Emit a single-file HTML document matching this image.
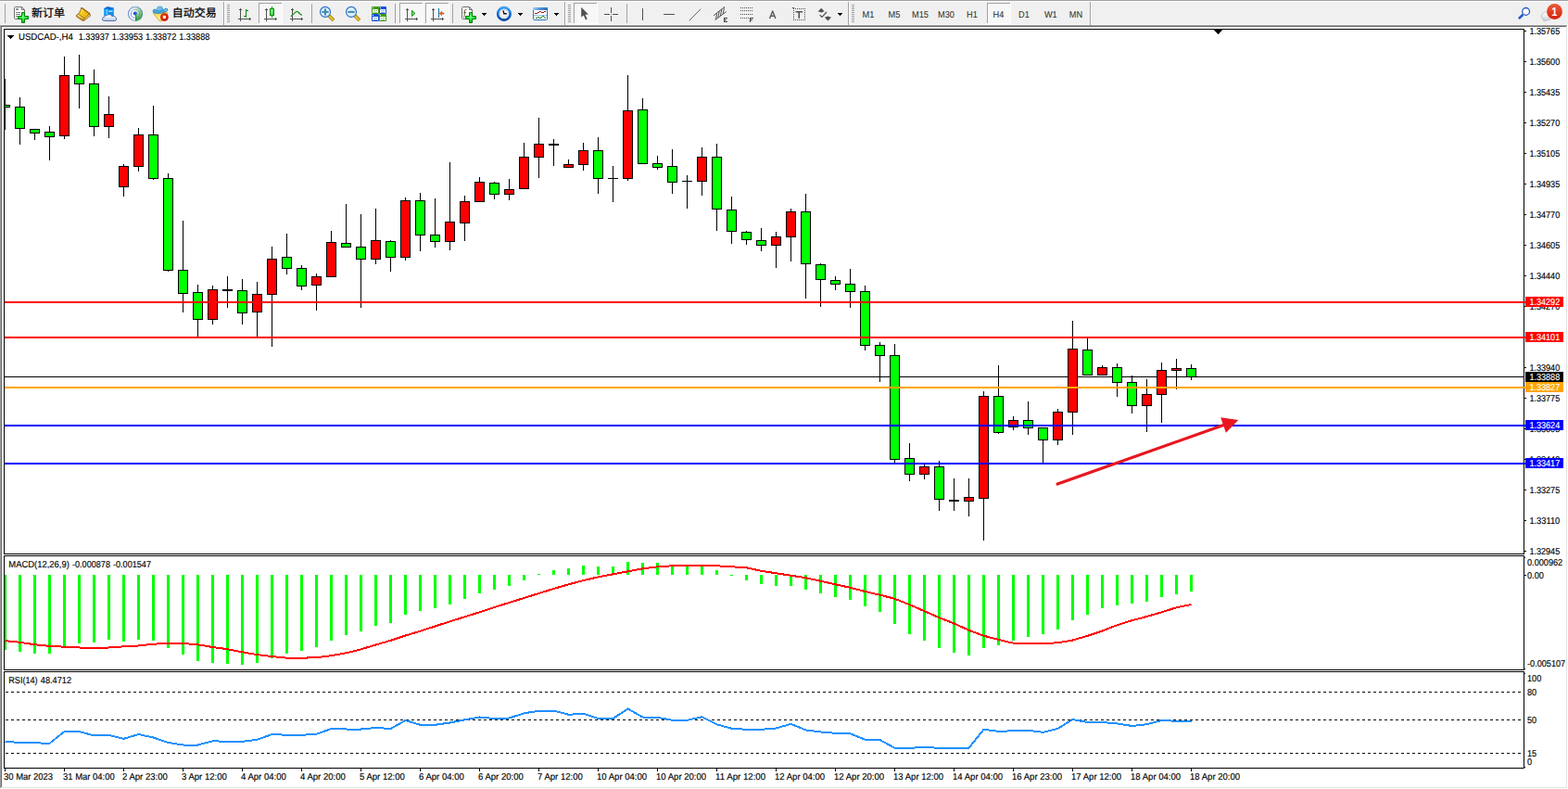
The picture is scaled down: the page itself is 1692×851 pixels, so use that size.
<!DOCTYPE html>
<html><head><meta charset="utf-8"><title>USDCAD-,H4</title>
<style>html,body{margin:0;padding:0;background:#fff;overflow:hidden}body{width:1692px;height:851px;font-family:"Liberation Sans",sans-serif}text{white-space:pre}</style>
</head><body>
<svg width="1692" height="851" viewBox="0 0 1692 851" shape-rendering="crispEdges" text-rendering="geometricPrecision" font-family="'Liberation Sans', sans-serif" style="display:block"><defs><clipPath id="cm"><rect x="5" y="32" width="1639" height="565"/></clipPath></defs><rect x="0" y="0" width="1692" height="851" fill="#fff"/>
<rect x="0" y="0" width="1692" height="27" fill="#f0f0f0"/>
<rect x="0" y="0" width="1692" height="1" fill="#a0a0a0"/>
<rect x="0" y="1" width="1692" height="1" fill="#ffffff"/>
<rect x="0" y="26" width="1692" height="1" fill="#f8f8f8"/>
<rect x="0" y="27" width="1692" height="1" fill="#a0a0a0"/>
<rect x="1" y="28" width="1691" height="1" fill="#696969"/>
<rect x="0" y="27" width="1" height="824" fill="#a0a0a0"/>
<rect x="1" y="28" width="1" height="823" fill="#696969"/>
<rect x="1690" y="28" width="1" height="823" fill="#e3e3e3"/>
<rect x="1691" y="27" width="1" height="824" fill="#ffffff"/>
<rect x="1" y="849" width="1690" height="1" fill="#e3e3e3"/>
<rect x="0" y="850" width="1692" height="1" fill="#ffffff"/>
<defs><pattern id="chk" width="2" height="2" patternUnits="userSpaceOnUse"><rect width="2" height="2" fill="#fff"/><rect width="1" height="1" fill="#f0f0f0"/><rect x="1" y="1" width="1" height="1" fill="#f0f0f0"/></pattern><radialGradient id="gplus" cx=".5" cy=".4" r=".6"><stop offset="0" stop-color="#7dff8a"/><stop offset=".6" stop-color="#10e62a"/><stop offset="1" stop-color="#08b81c"/></radialGradient><linearGradient id="gbook" x1="0" y1="0" x2="1" y2="1"><stop offset="0" stop-color="#fff79a"/><stop offset=".45" stop-color="#f2c516"/><stop offset="1" stop-color="#e6ad10"/></linearGradient><linearGradient id="gspine" x1="0" y1="0" x2=".3" y2="1"><stop offset="0" stop-color="#fdf0b0"/><stop offset="1" stop-color="#d9a018"/></linearGradient><linearGradient id="gring" x1="0" y1="0" x2="1" y2="0"><stop offset="0" stop-color="#2456cc"/><stop offset=".5" stop-color="#7fa2e0"/><stop offset="1" stop-color="#2f6a94"/></linearGradient><linearGradient id="gcloud" x1="0" y1="0" x2="0" y2="1"><stop offset="0" stop-color="#ffffff"/><stop offset=".5" stop-color="#e4eaf4"/><stop offset="1" stop-color="#b4c1dc"/></linearGradient><radialGradient id="gradar"><stop offset="0" stop-color="#ffffff" stop-opacity=".9"/><stop offset="1" stop-color="#dfe8f6" stop-opacity=".7"/></radialGradient><linearGradient id="gsect" x1="0" y1="0" x2="1" y2="1"><stop offset="0" stop-color="#d0e8c8" stop-opacity=".6"/><stop offset="1" stop-color="#2f9c2f"/></linearGradient><linearGradient id="gface" x1="0" y1="0" x2="1" y2="1"><stop offset="0" stop-color="#f7d73a"/><stop offset=".6" stop-color="#fdf08a"/><stop offset="1" stop-color="#f0c828"/></linearGradient><radialGradient id="gwedge" gradientUnits="userSpaceOnUse" cx="146" cy="14.85" r="8"><stop offset="0" stop-color="#a8d8a2"/><stop offset=".5" stop-color="#58b258"/><stop offset="1" stop-color="#1c931c"/></radialGradient><linearGradient id="gcrown" x1="0" y1="0" x2="1" y2="1"><stop offset="0" stop-color="#8dd0f4"/><stop offset="1" stop-color="#4fabe0"/></linearGradient><radialGradient id="gstop" cx=".4" cy=".35"><stop offset="0" stop-color="#ff5a30"/><stop offset="1" stop-color="#da1c00"/></radialGradient><linearGradient id="gcnd" x1="0" y1="0" x2="1" y2="1"><stop offset="0" stop-color="#9cf7a4"/><stop offset="1" stop-color="#22d53a"/></linearGradient><linearGradient id="gclk" x1="0" y1="0" x2="0" y2="1"><stop offset="0" stop-color="#38a0f4"/><stop offset=".5" stop-color="#0a6cd8"/><stop offset="1" stop-color="#00489a"/></linearGradient><linearGradient id="gtpl" x1="0" y1="0" x2="1" y2="0"><stop offset="0" stop-color="#9fd0ff"/><stop offset=".5" stop-color="#4c8fd8"/><stop offset="1" stop-color="#2c72ba"/></linearGradient><linearGradient id="gbub" x1="0" y1="0" x2="0" y2="1"><stop offset="0" stop-color="#ffffff"/><stop offset="1" stop-color="#d2d2de"/></linearGradient><linearGradient id="gnot" x1="0" y1="0" x2="0" y2="1"><stop offset="0" stop-color="#ea5a38"/><stop offset="1" stop-color="#d8200c"/></linearGradient></defs><rect x="5" y="4" width="1" height="21" fill="#a0a0a0"/>
<g shape-rendering="geometricPrecision"><path d="M16.5,7.5 H23.5 L26.5,10.5 V19.5 Q26.5,20.5 25.5,20.5 H16.5 Q15.5,20.5 15.5,19.5 V8.5 Q15.5,7.5 16.5,7.5 Z" fill="#fff" stroke="#707070" stroke-width="1"/><path d="M23.5,7.5 V10.5 H26.5" fill="none" stroke="#707070" stroke-width="1"/></g>
<rect x="17" y="9" width="3" height="2" fill="#909090"/>
<rect x="17" y="13" width="5" height="1" fill="#808080"/>
<rect x="17" y="15" width="5" height="1" fill="#808080"/>
<rect x="17" y="17" width="2" height="1" fill="#808080"/>
<g shape-rendering="geometricPrecision"><path d="M23.5,13.5 H26.5 V17.5 H30.5 V20.5 H26.5 V24.5 H23.5 V20.5 H19.5 V17.5 H23.5 Z" fill="url(#gplus)" stroke="#0b7a0b" stroke-width="1"/></g>
<g shape-rendering="geometricPrecision"><text x="34" y="18.3" font-size="12" fill="#000" stroke="#000" stroke-width="0.25" font-family="'Liberation Sans', 'Noto Sans CJK SC', sans-serif">新订单</text></g>
<g shape-rendering="geometricPrecision"><path d="M87.4,8.1 L88.7,8.1 L96.9,14.1 L97.8,16.1 L97.8,17.3 L90.7,22.8 L89.1,22.8 L82.1,18 L82.1,16.5 L84.9,14 L86.3,11.4 Z" fill="#9c600b"/><path d="M88,9.2 L96,15 L91.4,19.5 L84.7,15.1 L86.4,13.4 Z" fill="url(#gbook)"/><path d="M84.3,15.6 L91.1,20 L90,21.9 L83,17.3 Z" fill="url(#gspine)"/><path d="M96.5,15.7 L97.2,16.7 L90.9,21.7 L91.7,20.1 Z" fill="#eadba4"/></g>
<g shape-rendering="geometricPrecision"><path d="M112,9.2 L116,7.2 L122.8,8.4 L122.8,17 L112,17 Z" fill="#0a8fef"/><path d="M112,9.2 L116,7.2 L122.8,8.4 L118.6,10.2 Z" fill="#1565d8"/><path d="M112,9.2 L115.6,10.6 L115.6,17 L112,17 Z" fill="#19a7fb"/><path d="M115.3,9.6 L115.9,9.9 L115.9,17 L115.3,17 Z" fill="#e8f6ff"/><rect x="117" y="11.6" width="4.6" height="1.1" fill="#e8f6ff"/><path d="M112.6,22.5 Q110.3,22.4 110.4,20.2 Q110.6,18.3 112.8,18.3 Q113.2,16.2 115.6,16.4 Q116.6,15.4 118.2,15.6 Q120.2,15.8 120.8,17.6 Q123,16.6 124.4,18.2 Q126,19.2 125.6,21 Q125.2,22.5 123.4,22.5 Z" fill="url(#gcloud)" stroke="#4465ad" stroke-width="0.9"/></g>
<g shape-rendering="geometricPrecision"><circle cx="146" cy="14.85" r="8" fill="#fbfcff" opacity=".75"/><path d="M146,14.85 L146.00,22.75 A7.9,7.9 0 0 0 150.07,21.62 Z" fill="url(#gwedge)" opacity="1"/><path d="M146,14.85 L149.95,21.69 A7.9,7.9 0 0 0 152.91,18.68 Z" fill="url(#gwedge)" opacity="0.9"/><path d="M146,14.85 L152.84,18.80 A7.9,7.9 0 0 0 153.90,14.71 Z" fill="url(#gwedge)" opacity="0.75"/><path d="M146,14.85 L153.90,14.85 A7.9,7.9 0 0 0 152.77,10.78 Z" fill="url(#gwedge)" opacity="0.55"/><path d="M146,14.85 L152.84,10.90 A7.9,7.9 0 0 0 149.83,7.94 Z" fill="url(#gwedge)" opacity="0.4"/><path d="M146,14.85 L149.95,8.01 A7.9,7.9 0 0 0 145.86,6.95 Z" fill="url(#gwedge)" opacity="0.25"/><path d="M146,14.85 L146.00,6.95 A7.9,7.9 0 0 0 141.93,8.08 Z" fill="url(#gwedge)" opacity="0.12"/><circle cx="146" cy="14.85" r="7.5" fill="none" stroke="url(#gring)" stroke-width="1.1" opacity=".68"/><circle cx="146" cy="14.85" r="4.6" fill="none" stroke="url(#gring)" stroke-width="1.1" opacity=".55"/><circle cx="145.8" cy="14.6" r="2" fill="#2453d2"/><rect x="146" y="14.9" width="1.2" height="7.9" fill="#18a018"/></g>
<g shape-rendering="geometricPrecision"><path d="M165.2,14.2 L180.9,13.2 L180.6,15.6 L174.4,22.8 L172.2,22.8 Z" fill="url(#gface)" stroke="#cf9f14" stroke-width=".8"/><path d="M165.1,11.7 Q165.3,10 167.1,10 Q168.6,10.8 169.3,11.4 L176,10.9 Q177.8,9.6 179.5,9.1 Q181,9.4 180.9,10.7 Q180.4,12 178.9,12.4 Q175,14.6 170.5,14.4 Q166.6,14.2 165.7,13.4 Q165,12.6 165.1,11.7 Z" fill="#48a8dc" stroke="#1f82b4" stroke-width=".8"/><path d="M169.1,11.5 Q169.2,8.4 170.5,7.3 Q172.4,6.9 174.4,7.3 Q175.8,8.6 176.1,11 Q172.8,12.8 169.1,11.5 Z" fill="url(#gcrown)" stroke="#2a8fc0" stroke-width=".7"/><path d="M177.6,11.6 L179.8,10.2" stroke="#bfe4f8" stroke-width=".8" fill="none"/><circle cx="177.4" cy="18.5" r="4" fill="url(#gstop)" stroke="#b41a00" stroke-width=".8"/><rect x="176.05" y="17.1" width="2.8" height="2.8" fill="#fff"/></g>
<g shape-rendering="geometricPrecision"><text x="185.8" y="18.3" font-size="12" fill="#000" stroke="#000" stroke-width="0.25" font-family="'Liberation Sans', 'Noto Sans CJK SC', sans-serif">自动交易</text></g>
<rect x="241" y="2" width="1" height="25" fill="#a0a0a0"/>
<rect x="242" y="2" width="1" height="25" fill="#fff"/>
<rect x="245" y="5" width="3" height="1" fill="#a0a0a0"/>
<rect x="245" y="7" width="3" height="1" fill="#a0a0a0"/>
<rect x="245" y="9" width="3" height="1" fill="#a0a0a0"/>
<rect x="245" y="11" width="3" height="1" fill="#a0a0a0"/>
<rect x="245" y="13" width="3" height="1" fill="#a0a0a0"/>
<rect x="245" y="15" width="3" height="1" fill="#a0a0a0"/>
<rect x="245" y="17" width="3" height="1" fill="#a0a0a0"/>
<rect x="245" y="19" width="3" height="1" fill="#a0a0a0"/>
<rect x="245" y="21" width="3" height="1" fill="#a0a0a0"/>
<rect x="245" y="23" width="3" height="1" fill="#a0a0a0"/>
<rect x="259" y="9" width="1" height="14" fill="#505050"/>
<rect x="258" y="10" width="3" height="1" fill="#505050"/>
<rect x="257" y="20" width="14" height="1" fill="#505050"/>
<rect x="269" y="19" width="1" height="3" fill="#505050"/>
<rect x="265" y="10" width="1" height="9" fill="#0a8a0a"/>
<rect x="266" y="11" width="2" height="1" fill="#0a8a0a"/>
<rect x="263" y="17" width="2" height="1" fill="#0a8a0a"/>
<rect x="280" y="4" width="24" height="21" fill="url(#chk)"/>
<rect x="280" y="4" width="24" height="1" fill="#fff"/>
<rect x="280" y="4" width="1" height="21" fill="#fff"/>
<rect x="279" y="3" width="25" height="1" fill="#a0a0a0"/>
<rect x="279" y="3" width="1" height="22" fill="#a0a0a0"/>
<rect x="304" y="3" width="1" height="23" fill="#fff"/>
<rect x="279" y="25" width="26" height="1" fill="#fff"/>
<rect x="287" y="9" width="1" height="14" fill="#505050"/>
<rect x="286" y="10" width="3" height="1" fill="#505050"/>
<rect x="285" y="20" width="14" height="1" fill="#505050"/>
<rect x="297" y="19" width="1" height="3" fill="#505050"/>
<rect x="293" y="7" width="1" height="12" fill="#0a8a0a"/>
<rect x="291" y="9" width="5" height="8" fill="#0a8a0a"/>
<rect x="292" y="10" width="3" height="6" fill="url(#gcnd)"/>
<rect x="315" y="9" width="1" height="14" fill="#505050"/>
<rect x="314" y="10" width="3" height="1" fill="#505050"/>
<rect x="313" y="20" width="14" height="1" fill="#505050"/>
<rect x="325" y="19" width="1" height="3" fill="#505050"/>
<g shape-rendering="geometricPrecision"><path d="M313.8,17.8 Q317,15 318.8,13.1 Q320.3,11.7 321.7,13 Q323.6,15 325.8,16.5" fill="none" stroke="#1d941d" stroke-width="1.2"/></g>
<rect x="336" y="4" width="1" height="21" fill="#a0a0a0"/>
<g shape-rendering="geometricPrecision"><line x1="355.2" y1="17.1" x2="359.9" y2="22.0" stroke="#9a6c00" stroke-width="3.6"/><line x1="355.4" y1="17.3" x2="359.6" y2="21.700000000000003" stroke="#ecc625" stroke-width="2.2"/><circle cx="351" cy="12.9" r="5.5" fill="#d6effb" stroke="#2a6cc4" stroke-width="1.1"/><rect x="347.4" y="11.9" width="7.2" height="2" fill="#4288b2"/><rect x="350" y="9.3" width="2" height="7.2" fill="#4288b2"/></g>
<g shape-rendering="geometricPrecision"><line x1="383.2" y1="17.1" x2="387.9" y2="22.0" stroke="#9a6c00" stroke-width="3.6"/><line x1="383.4" y1="17.3" x2="387.6" y2="21.700000000000003" stroke="#ecc625" stroke-width="2.2"/><circle cx="379" cy="12.9" r="5.5" fill="#d6effb" stroke="#2a6cc4" stroke-width="1.1"/><rect x="375.4" y="11.9" width="7.2" height="2" fill="#4288b2"/></g>
<g shape-rendering="geometricPrecision"><rect x="401" y="7" width="8" height="8" rx="1" fill="#3d9c12"/><rect x="402" y="10" width="6" height="4" fill="#fff"/><rect x="403" y="13" width="4" height="1" fill="#3d9c12" opacity=".55"/><rect x="403" y="11" width="4" height="1" fill="#9ad37c"/><rect x="402" y="8" width="1" height="1" fill="#fff"/></g>
<g shape-rendering="geometricPrecision"><rect x="409" y="7" width="8" height="8" rx="1" fill="#1452d2"/><rect x="410" y="10" width="6" height="4" fill="#fff"/><rect x="411" y="13" width="4" height="1" fill="#1452d2" opacity=".55"/><rect x="411" y="11" width="4" height="1" fill="#8fb0f0"/><rect x="410" y="8" width="1" height="1" fill="#fff"/></g>
<g shape-rendering="geometricPrecision"><rect x="401" y="15" width="8" height="8" rx="1" fill="#1452d2"/><rect x="402" y="18" width="6" height="4" fill="#fff"/><rect x="403" y="21" width="4" height="1" fill="#1452d2" opacity=".55"/><rect x="403" y="19" width="4" height="1" fill="#8fb0f0"/><rect x="402" y="16" width="1" height="1" fill="#fff"/></g>
<g shape-rendering="geometricPrecision"><rect x="409" y="15" width="8" height="8" rx="1" fill="#3d9c12"/><rect x="410" y="18" width="6" height="4" fill="#fff"/><rect x="411" y="21" width="4" height="1" fill="#3d9c12" opacity=".55"/><rect x="411" y="19" width="4" height="1" fill="#9ad37c"/><rect x="410" y="16" width="1" height="1" fill="#fff"/></g>
<rect x="426" y="4" width="1" height="21" fill="#a0a0a0"/>
<rect x="432" y="4" width="24" height="21" fill="url(#chk)"/>
<rect x="432" y="4" width="24" height="1" fill="#fff"/>
<rect x="432" y="4" width="1" height="21" fill="#fff"/>
<rect x="431" y="3" width="25" height="1" fill="#a0a0a0"/>
<rect x="431" y="3" width="1" height="22" fill="#a0a0a0"/>
<rect x="456" y="3" width="1" height="23" fill="#fff"/>
<rect x="431" y="25" width="26" height="1" fill="#fff"/>
<rect x="439" y="9" width="1" height="14" fill="#505050"/>
<rect x="438" y="10" width="3" height="1" fill="#505050"/>
<rect x="437" y="20" width="14" height="1" fill="#505050"/>
<rect x="449" y="19" width="1" height="3" fill="#505050"/>
<g shape-rendering="geometricPrecision"><path d="M444.4,11.3 L447.9,14.4 L444.4,17.5 Z" fill="#62e067" stroke="#0a8a0a" stroke-width=".9"/></g>
<rect x="460" y="4" width="24" height="21" fill="url(#chk)"/>
<rect x="460" y="4" width="24" height="1" fill="#fff"/>
<rect x="460" y="4" width="1" height="21" fill="#fff"/>
<rect x="459" y="3" width="25" height="1" fill="#a0a0a0"/>
<rect x="459" y="3" width="1" height="22" fill="#a0a0a0"/>
<rect x="484" y="3" width="1" height="23" fill="#fff"/>
<rect x="459" y="25" width="26" height="1" fill="#fff"/>
<rect x="467" y="9" width="1" height="14" fill="#505050"/>
<rect x="466" y="10" width="3" height="1" fill="#505050"/>
<rect x="465" y="20" width="14" height="1" fill="#505050"/>
<rect x="477" y="19" width="1" height="3" fill="#505050"/>
<rect x="473" y="9" width="1" height="10" fill="#1070a8"/>
<g shape-rendering="geometricPrecision"><path d="M474.2,14.4 L476.6,12.2 L476.4,13.8 L479,14 L479,14.9 L476.4,15.1 L476.6,16.7 Z" fill="#f2620a" stroke="#b23500" stroke-width=".5"/></g>
<rect x="488" y="4" width="1" height="21" fill="#a0a0a0"/>
<g shape-rendering="geometricPrecision"><path d="M499.5,7.5 H506.5 L509.5,10.5 V19.5 Q509.5,20.5 508.5,20.5 H499.5 Q498.5,20.5 498.5,19.5 V8.5 Q498.5,7.5 499.5,7.5 Z" fill="#fff" stroke="#707070" stroke-width="1"/><path d="M506.5,7.5 V10.5 H509.5" fill="none" stroke="#707070" stroke-width="1"/></g>
<g shape-rendering="geometricPrecision"><path d="M503.6,10.2 Q501.6,9.6 501.4,12 L501,17.6 Q500.9,19 499.9,18.8 M500.2,13.6 H503" fill="none" stroke="#5a5238" stroke-width=".9"/></g>
<g shape-rendering="geometricPrecision"><path d="M506.5,13.5 H509.5 V17.5 H513.5 V20.5 H509.5 V24.5 H506.5 V20.5 H502.5 V17.5 H506.5 Z" fill="url(#gplus)" stroke="#0b7a0b" stroke-width="1"/></g>
<rect x="520" y="14" width="5" height="1" fill="#000"/>
<rect x="521" y="15" width="3" height="1" fill="#000"/>
<rect x="522" y="16" width="1" height="1" fill="#000"/>
<g shape-rendering="geometricPrecision"><circle cx="543.9" cy="14.9" r="6.75" fill="#f1f3f6" stroke="url(#gclk)" stroke-width="2.6"/><circle cx="543.9" cy="14.9" r="4.4" fill="none" stroke="#7c8894" stroke-width=".9" stroke-dasharray=".7,1.6"/><path d="M543,11.4 L543.9,14.7 L546.8,14.7" fill="none" stroke="#111" stroke-width="1.4"/></g>
<rect x="559" y="14" width="5" height="1" fill="#000"/>
<rect x="560" y="15" width="3" height="1" fill="#000"/>
<rect x="561" y="16" width="1" height="1" fill="#000"/>
<g shape-rendering="geometricPrecision"><rect x="575.5" y="8.5" width="15" height="13" rx="1" fill="#fff" stroke="#2c72ba" stroke-width="1"/><rect x="575" y="8" width="16" height="3" fill="url(#gtpl)"/><rect x="576" y="16" width="14" height="1" fill="#9fc3e6"/></g>
<rect x="577" y="14" width="3" height="1" fill="#a32000"/>
<rect x="580" y="13" width="2" height="1" fill="#a32000"/>
<rect x="582" y="12" width="2" height="1" fill="#a32000"/>
<rect x="584" y="13" width="3" height="1" fill="#a32000"/>
<rect x="587" y="12" width="2" height="1" fill="#a32000"/>
<rect x="578" y="19" width="2" height="1" fill="#148414"/>
<rect x="580" y="18" width="2" height="1" fill="#148414"/>
<rect x="582" y="19" width="2" height="1" fill="#148414"/>
<rect x="584" y="18" width="1" height="1" fill="#148414"/>
<rect x="585" y="17" width="2" height="1" fill="#148414"/>
<rect x="587" y="18" width="1" height="1" fill="#148414"/>
<rect x="588" y="19" width="1" height="1" fill="#148414"/>
<rect x="598" y="14" width="5" height="1" fill="#000"/>
<rect x="599" y="15" width="3" height="1" fill="#000"/>
<rect x="600" y="16" width="1" height="1" fill="#000"/>
<rect x="609" y="2" width="1" height="25" fill="#a0a0a0"/>
<rect x="610" y="2" width="1" height="25" fill="#fff"/>
<rect x="613" y="5" width="3" height="1" fill="#a0a0a0"/>
<rect x="613" y="7" width="3" height="1" fill="#a0a0a0"/>
<rect x="613" y="9" width="3" height="1" fill="#a0a0a0"/>
<rect x="613" y="11" width="3" height="1" fill="#a0a0a0"/>
<rect x="613" y="13" width="3" height="1" fill="#a0a0a0"/>
<rect x="613" y="15" width="3" height="1" fill="#a0a0a0"/>
<rect x="613" y="17" width="3" height="1" fill="#a0a0a0"/>
<rect x="613" y="19" width="3" height="1" fill="#a0a0a0"/>
<rect x="613" y="21" width="3" height="1" fill="#a0a0a0"/>
<rect x="613" y="23" width="3" height="1" fill="#a0a0a0"/>
<rect x="620" y="4" width="24" height="21" fill="url(#chk)"/>
<rect x="620" y="4" width="24" height="1" fill="#fff"/>
<rect x="620" y="4" width="1" height="21" fill="#fff"/>
<rect x="619" y="3" width="25" height="1" fill="#a0a0a0"/>
<rect x="619" y="3" width="1" height="22" fill="#a0a0a0"/>
<rect x="644" y="3" width="1" height="23" fill="#fff"/>
<rect x="619" y="25" width="26" height="1" fill="#fff"/>
<g shape-rendering="geometricPrecision"><path d="M627.2,7.8 L627.2,18.6 L629.8,16.4 L632,21.4 L633.7,20.6 L631.5,15.8 L634.9,15.6 Z" fill="#505050"/></g>
<rect x="659" y="8" width="1" height="6" fill="#505050"/>
<rect x="659" y="17" width="1" height="6" fill="#505050"/>
<rect x="652" y="15" width="6" height="1" fill="#505050"/>
<rect x="661" y="15" width="6" height="1" fill="#505050"/>
<rect x="659" y="15" width="1" height="1" fill="#909090"/>
<rect x="676" y="4" width="1" height="21" fill="#a0a0a0"/>
<rect x="693" y="9" width="1" height="13" fill="#505050"/>
<rect x="716" y="15" width="12" height="1" fill="#505050"/>
<g shape-rendering="geometricPrecision"><line x1="743.8" y1="22.2" x2="756.2" y2="9.6" stroke="#5c5c5c" stroke-width="0.95"/></g>
<g shape-rendering="geometricPrecision"><g stroke="#505050" stroke-width="1"><line x1="770" y1="16.8" x2="780.6" y2="8.4"/><line x1="771.6" y1="21.6" x2="783.6" y2="12.6"/><line x1="773.6" y1="14.4" x2="772.4" y2="21"/><line x1="776.2" y1="12.2" x2="774.8" y2="19"/><line x1="778.8" y1="10" x2="777.4" y2="17"/><line x1="781.6" y1="7.2" x2="780.2" y2="15"/></g></g>
<rect x="781" y="19" width="1" height="5" fill="#404040"/>
<rect x="781" y="19" width="4" height="1" fill="#404040"/>
<rect x="781" y="21" width="3" height="1" fill="#404040"/>
<rect x="781" y="23" width="4" height="1" fill="#404040"/>
<rect x="799" y="8" width="1" height="1" fill="#505050"/>
<rect x="801" y="8" width="1" height="1" fill="#505050"/>
<rect x="803" y="8" width="1" height="1" fill="#505050"/>
<rect x="805" y="8" width="1" height="1" fill="#505050"/>
<rect x="807" y="8" width="1" height="1" fill="#505050"/>
<rect x="809" y="8" width="1" height="1" fill="#505050"/>
<rect x="811" y="8" width="1" height="1" fill="#505050"/>
<rect x="799" y="11" width="1" height="1" fill="#505050"/>
<rect x="801" y="11" width="1" height="1" fill="#505050"/>
<rect x="803" y="11" width="1" height="1" fill="#505050"/>
<rect x="805" y="11" width="1" height="1" fill="#505050"/>
<rect x="807" y="11" width="1" height="1" fill="#505050"/>
<rect x="809" y="11" width="1" height="1" fill="#505050"/>
<rect x="811" y="11" width="1" height="1" fill="#505050"/>
<rect x="799" y="15" width="1" height="1" fill="#505050"/>
<rect x="801" y="15" width="1" height="1" fill="#505050"/>
<rect x="803" y="15" width="1" height="1" fill="#505050"/>
<rect x="805" y="15" width="1" height="1" fill="#505050"/>
<rect x="807" y="15" width="1" height="1" fill="#505050"/>
<rect x="809" y="15" width="1" height="1" fill="#505050"/>
<rect x="811" y="15" width="1" height="1" fill="#505050"/>
<rect x="799" y="19" width="1" height="1" fill="#505050"/>
<rect x="801" y="19" width="1" height="1" fill="#505050"/>
<rect x="803" y="19" width="1" height="1" fill="#505050"/>
<rect x="805" y="19" width="1" height="1" fill="#505050"/>
<rect x="807" y="19" width="1" height="1" fill="#505050"/>
<rect x="809" y="19" width="1" height="5" fill="#404040"/>
<rect x="809" y="19" width="4" height="1" fill="#404040"/>
<rect x="809" y="21" width="3" height="1" fill="#404040"/>
<g shape-rendering="geometricPrecision"><path d="M830.5,19.9 L833.7,11.9 L836.9,19.9 M831.6,17.2 H835.8" fill="none" stroke="#5c5c5c" stroke-width="1.45" stroke-linejoin="round"/></g>
<rect x="856" y="9" width="1" height="1" fill="#505050"/>
<rect x="856" y="21" width="1" height="1" fill="#505050"/>
<rect x="858" y="9" width="1" height="1" fill="#505050"/>
<rect x="858" y="21" width="1" height="1" fill="#505050"/>
<rect x="860" y="9" width="1" height="1" fill="#505050"/>
<rect x="860" y="21" width="1" height="1" fill="#505050"/>
<rect x="862" y="9" width="1" height="1" fill="#505050"/>
<rect x="862" y="21" width="1" height="1" fill="#505050"/>
<rect x="864" y="9" width="1" height="1" fill="#505050"/>
<rect x="864" y="21" width="1" height="1" fill="#505050"/>
<rect x="866" y="9" width="1" height="1" fill="#505050"/>
<rect x="866" y="21" width="1" height="1" fill="#505050"/>
<rect x="868" y="9" width="1" height="1" fill="#505050"/>
<rect x="868" y="21" width="1" height="1" fill="#505050"/>
<rect x="856" y="9" width="1" height="1" fill="#505050"/>
<rect x="868" y="9" width="1" height="1" fill="#505050"/>
<rect x="856" y="11" width="1" height="1" fill="#505050"/>
<rect x="868" y="11" width="1" height="1" fill="#505050"/>
<rect x="856" y="13" width="1" height="1" fill="#505050"/>
<rect x="868" y="13" width="1" height="1" fill="#505050"/>
<rect x="856" y="15" width="1" height="1" fill="#505050"/>
<rect x="868" y="15" width="1" height="1" fill="#505050"/>
<rect x="856" y="17" width="1" height="1" fill="#505050"/>
<rect x="868" y="17" width="1" height="1" fill="#505050"/>
<rect x="856" y="19" width="1" height="1" fill="#505050"/>
<rect x="868" y="19" width="1" height="1" fill="#505050"/>
<rect x="856" y="21" width="1" height="1" fill="#505050"/>
<rect x="868" y="21" width="1" height="1" fill="#505050"/>
<rect x="855" y="8" width="2" height="1" fill="#505050"/>
<g shape-rendering="geometricPrecision"><rect x="858.5" y="12" width="7.5" height="1.5" fill="#505050"/><rect x="861.45" y="12" width="1.6" height="7.8" fill="#505050"/></g>
<g shape-rendering="geometricPrecision"><path d="M886.2,8.8 L889.6,12.2 L886.2,13.4 L882.8,12.2 Z" fill="#505050"/><path d="M893.4,22.4 L889.8,18.8 L893.4,17.6 L897,18.8 Z" fill="#505050"/><path d="M884.6,16.2 L887,18.4 L892,13" fill="none" stroke="#505050" stroke-width="1.2"/></g>
<rect x="904" y="14" width="5" height="1" fill="#000"/>
<rect x="905" y="15" width="3" height="1" fill="#000"/>
<rect x="906" y="16" width="1" height="1" fill="#000"/>
<rect x="915" y="2" width="1" height="25" fill="#a0a0a0"/>
<rect x="916" y="2" width="1" height="25" fill="#fff"/>
<rect x="919" y="5" width="3" height="1" fill="#a0a0a0"/>
<rect x="919" y="7" width="3" height="1" fill="#a0a0a0"/>
<rect x="919" y="9" width="3" height="1" fill="#a0a0a0"/>
<rect x="919" y="11" width="3" height="1" fill="#a0a0a0"/>
<rect x="919" y="13" width="3" height="1" fill="#a0a0a0"/>
<rect x="919" y="15" width="3" height="1" fill="#a0a0a0"/>
<rect x="919" y="17" width="3" height="1" fill="#a0a0a0"/>
<rect x="919" y="19" width="3" height="1" fill="#a0a0a0"/>
<rect x="919" y="21" width="3" height="1" fill="#a0a0a0"/>
<rect x="919" y="23" width="3" height="1" fill="#a0a0a0"/>
<rect x="1066" y="4" width="24" height="21" fill="url(#chk)"/>
<rect x="1066" y="4" width="24" height="1" fill="#fff"/>
<rect x="1066" y="4" width="1" height="21" fill="#fff"/>
<rect x="1065" y="3" width="25" height="1" fill="#a0a0a0"/>
<rect x="1065" y="3" width="1" height="22" fill="#a0a0a0"/>
<rect x="1090" y="3" width="1" height="23" fill="#fff"/>
<rect x="1065" y="25" width="26" height="1" fill="#fff"/>
<g shape-rendering="geometricPrecision"><text x="930.61" y="19" font-size="10" fill="#303030" stroke="#303030" stroke-width="0.07" textLength="12.78" lengthAdjust="spacingAndGlyphs">M1</text></g>
<g shape-rendering="geometricPrecision"><text x="958.61" y="19" font-size="10" fill="#303030" stroke="#303030" stroke-width="0.07" textLength="12.78" lengthAdjust="spacingAndGlyphs">M5</text></g>
<g shape-rendering="geometricPrecision"><text x="984.05" y="19" font-size="10" fill="#303030" stroke="#303030" stroke-width="0.07" textLength="17.9" lengthAdjust="spacingAndGlyphs">M15</text></g>
<g shape-rendering="geometricPrecision"><text x="1012.05" y="19" font-size="10" fill="#303030" stroke="#303030" stroke-width="0.07" textLength="17.9" lengthAdjust="spacingAndGlyphs">M30</text></g>
<g shape-rendering="geometricPrecision"><text x="1043.12" y="19" font-size="10" fill="#303030" stroke="#303030" stroke-width="0.07" textLength="11.76" lengthAdjust="spacingAndGlyphs">H1</text></g>
<g shape-rendering="geometricPrecision"><text x="1071.62" y="19" font-size="10" fill="#303030" stroke="#303030" stroke-width="0.07" textLength="11.76" lengthAdjust="spacingAndGlyphs">H4</text></g>
<g shape-rendering="geometricPrecision"><text x="1099.12" y="19" font-size="10" fill="#303030" stroke="#303030" stroke-width="0.07" textLength="11.76" lengthAdjust="spacingAndGlyphs">D1</text></g>
<g shape-rendering="geometricPrecision"><text x="1126.90" y="19" font-size="10" fill="#303030" stroke="#303030" stroke-width="0.07" textLength="13.8" lengthAdjust="spacingAndGlyphs">W1</text></g>
<g shape-rendering="geometricPrecision"><text x="1153.85" y="19" font-size="10" fill="#303030" stroke="#303030" stroke-width="0.07" textLength="14.3" lengthAdjust="spacingAndGlyphs">MN</text></g>
<rect x="1176" y="2" width="1" height="25" fill="#a0a0a0"/>
<rect x="1177" y="2" width="1" height="25" fill="#fff"/>
<g shape-rendering="geometricPrecision"><line x1="1643.4" y1="15.8" x2="1638.9" y2="20.1" stroke="#2458cc" stroke-width="2.6"/><circle cx="1646.6" cy="12.4" r="3.9" fill="#fff" stroke="#2458cc" stroke-width="1.3"/></g>
<g shape-rendering="geometricPrecision"><ellipse cx="1669" cy="17.4" rx="5.8" ry="4.6" fill="url(#gbub)" stroke="#b4b4b8" stroke-width=".7"/><path d="M1665.4,20.6 L1666,23.6 L1668.6,21.6 Z" fill="#d8d8e0" stroke="#b4b4b8" stroke-width=".5"/><circle cx="1677.5" cy="12.5" r="8.4" fill="url(#gnot)"/></g>
<text x="1677.4" y="17.2" font-size="13" font-weight="bold" fill="#fff" text-anchor="middle" textLength="6.2" lengthAdjust="spacingAndGlyphs">1</text>
<rect x="5" y="406" width="1639" height="1" fill="#000"/>
<g clip-path="url(#cm)">
<rect x="5" y="85" width="1" height="55" fill="#000"/>
<rect x="0" y="113" width="11" height="3" fill="#000"/>
<rect x="1" y="114" width="9" height="1" fill="#00ff00"/>
<rect x="21" y="105" width="1" height="51" fill="#000"/>
<rect x="16" y="115" width="11" height="24" fill="#000"/>
<rect x="17" y="116" width="9" height="22" fill="#00ff00"/>
<rect x="37" y="139" width="1" height="12" fill="#000"/>
<rect x="32" y="139" width="11" height="5" fill="#000"/>
<rect x="33" y="140" width="9" height="3" fill="#00ff00"/>
<rect x="53" y="136" width="1" height="37" fill="#000"/>
<rect x="48" y="142" width="11" height="6" fill="#000"/>
<rect x="49" y="143" width="9" height="4" fill="#00ff00"/>
<rect x="69" y="61" width="1" height="89" fill="#000"/>
<rect x="64" y="81" width="11" height="66" fill="#000"/>
<rect x="65" y="82" width="9" height="64" fill="#ff0000"/>
<rect x="85" y="59" width="1" height="58" fill="#000"/>
<rect x="80" y="81" width="11" height="10" fill="#000"/>
<rect x="81" y="82" width="9" height="8" fill="#00ff00"/>
<rect x="101" y="75" width="1" height="72" fill="#000"/>
<rect x="96" y="90" width="11" height="47" fill="#000"/>
<rect x="97" y="91" width="9" height="45" fill="#00ff00"/>
<rect x="117" y="104" width="1" height="45" fill="#000"/>
<rect x="112" y="123" width="11" height="14" fill="#000"/>
<rect x="113" y="124" width="9" height="12" fill="#ff0000"/>
<rect x="133" y="177" width="1" height="35" fill="#000"/>
<rect x="128" y="179" width="11" height="23" fill="#000"/>
<rect x="129" y="180" width="9" height="21" fill="#ff0000"/>
<rect x="149" y="138" width="1" height="47" fill="#000"/>
<rect x="144" y="145" width="11" height="35" fill="#000"/>
<rect x="145" y="146" width="9" height="33" fill="#ff0000"/>
<rect x="165" y="114" width="1" height="80" fill="#000"/>
<rect x="160" y="145" width="11" height="48" fill="#000"/>
<rect x="161" y="146" width="9" height="46" fill="#00ff00"/>
<rect x="181" y="187" width="1" height="106" fill="#000"/>
<rect x="176" y="192" width="11" height="100" fill="#000"/>
<rect x="177" y="193" width="9" height="98" fill="#00ff00"/>
<rect x="197" y="238" width="1" height="99" fill="#000"/>
<rect x="192" y="291" width="11" height="26" fill="#000"/>
<rect x="193" y="292" width="9" height="24" fill="#00ff00"/>
<rect x="213" y="307" width="1" height="57" fill="#000"/>
<rect x="208" y="315" width="11" height="30" fill="#000"/>
<rect x="209" y="316" width="9" height="28" fill="#00ff00"/>
<rect x="229" y="308" width="1" height="42" fill="#000"/>
<rect x="224" y="312" width="11" height="33" fill="#000"/>
<rect x="225" y="313" width="9" height="31" fill="#ff0000"/>
<rect x="245" y="298" width="1" height="34" fill="#000"/>
<rect x="240" y="312" width="11" height="2" fill="#000"/>
<rect x="261" y="301" width="1" height="49" fill="#000"/>
<rect x="256" y="313" width="11" height="25" fill="#000"/>
<rect x="257" y="314" width="9" height="23" fill="#00ff00"/>
<rect x="277" y="304" width="1" height="60" fill="#000"/>
<rect x="272" y="317" width="11" height="20" fill="#000"/>
<rect x="273" y="318" width="9" height="18" fill="#ff0000"/>
<rect x="293" y="266" width="1" height="108" fill="#000"/>
<rect x="288" y="279" width="11" height="39" fill="#000"/>
<rect x="289" y="280" width="9" height="37" fill="#ff0000"/>
<rect x="309" y="252" width="1" height="44" fill="#000"/>
<rect x="304" y="277" width="11" height="13" fill="#000"/>
<rect x="305" y="278" width="9" height="11" fill="#00ff00"/>
<rect x="325" y="286" width="1" height="27" fill="#000"/>
<rect x="320" y="289" width="11" height="20" fill="#000"/>
<rect x="321" y="290" width="9" height="18" fill="#00ff00"/>
<rect x="341" y="295" width="1" height="40" fill="#000"/>
<rect x="336" y="298" width="11" height="10" fill="#000"/>
<rect x="337" y="299" width="9" height="8" fill="#ff0000"/>
<rect x="357" y="249" width="1" height="50" fill="#000"/>
<rect x="352" y="261" width="11" height="38" fill="#000"/>
<rect x="353" y="262" width="9" height="36" fill="#ff0000"/>
<rect x="373" y="220" width="1" height="47" fill="#000"/>
<rect x="368" y="262" width="11" height="5" fill="#000"/>
<rect x="369" y="263" width="9" height="3" fill="#00ff00"/>
<rect x="389" y="231" width="1" height="101" fill="#000"/>
<rect x="384" y="266" width="11" height="14" fill="#000"/>
<rect x="385" y="267" width="9" height="12" fill="#00ff00"/>
<rect x="405" y="225" width="1" height="60" fill="#000"/>
<rect x="400" y="259" width="11" height="21" fill="#000"/>
<rect x="401" y="260" width="9" height="19" fill="#ff0000"/>
<rect x="421" y="259" width="1" height="34" fill="#000"/>
<rect x="416" y="260" width="11" height="18" fill="#000"/>
<rect x="417" y="261" width="9" height="16" fill="#00ff00"/>
<rect x="437" y="213" width="1" height="68" fill="#000"/>
<rect x="432" y="216" width="11" height="62" fill="#000"/>
<rect x="433" y="217" width="9" height="60" fill="#ff0000"/>
<rect x="453" y="208" width="1" height="63" fill="#000"/>
<rect x="448" y="216" width="11" height="38" fill="#000"/>
<rect x="449" y="217" width="9" height="36" fill="#00ff00"/>
<rect x="469" y="214" width="1" height="53" fill="#000"/>
<rect x="464" y="253" width="11" height="8" fill="#000"/>
<rect x="465" y="254" width="9" height="6" fill="#00ff00"/>
<rect x="485" y="175" width="1" height="95" fill="#000"/>
<rect x="480" y="239" width="11" height="22" fill="#000"/>
<rect x="481" y="240" width="9" height="20" fill="#ff0000"/>
<rect x="501" y="211" width="1" height="49" fill="#000"/>
<rect x="496" y="217" width="11" height="24" fill="#000"/>
<rect x="497" y="218" width="9" height="22" fill="#ff0000"/>
<rect x="517" y="191" width="1" height="27" fill="#000"/>
<rect x="512" y="196" width="11" height="22" fill="#000"/>
<rect x="513" y="197" width="9" height="20" fill="#ff0000"/>
<rect x="533" y="196" width="1" height="19" fill="#000"/>
<rect x="528" y="197" width="11" height="13" fill="#000"/>
<rect x="529" y="198" width="9" height="11" fill="#00ff00"/>
<rect x="549" y="193" width="1" height="23" fill="#000"/>
<rect x="544" y="204" width="11" height="6" fill="#000"/>
<rect x="545" y="205" width="9" height="4" fill="#ff0000"/>
<rect x="565" y="154" width="1" height="50" fill="#000"/>
<rect x="560" y="169" width="11" height="35" fill="#000"/>
<rect x="561" y="170" width="9" height="33" fill="#ff0000"/>
<rect x="581" y="127" width="1" height="65" fill="#000"/>
<rect x="576" y="155" width="11" height="15" fill="#000"/>
<rect x="577" y="156" width="9" height="13" fill="#ff0000"/>
<rect x="597" y="150" width="1" height="29" fill="#000"/>
<rect x="592" y="155" width="11" height="2" fill="#000"/>
<rect x="613" y="172" width="1" height="9" fill="#000"/>
<rect x="608" y="177" width="11" height="4" fill="#000"/>
<rect x="609" y="178" width="9" height="2" fill="#ff0000"/>
<rect x="629" y="154" width="1" height="30" fill="#000"/>
<rect x="624" y="162" width="11" height="16" fill="#000"/>
<rect x="625" y="163" width="9" height="14" fill="#ff0000"/>
<rect x="645" y="148" width="1" height="61" fill="#000"/>
<rect x="640" y="162" width="11" height="31" fill="#000"/>
<rect x="641" y="163" width="9" height="29" fill="#00ff00"/>
<rect x="661" y="179" width="1" height="39" fill="#000"/>
<rect x="656" y="192" width="11" height="1" fill="#000"/>
<rect x="677" y="81" width="1" height="114" fill="#000"/>
<rect x="672" y="119" width="11" height="74" fill="#000"/>
<rect x="673" y="120" width="9" height="72" fill="#ff0000"/>
<rect x="693" y="106" width="1" height="71" fill="#000"/>
<rect x="688" y="118" width="11" height="59" fill="#000"/>
<rect x="689" y="119" width="9" height="57" fill="#00ff00"/>
<rect x="709" y="168" width="1" height="15" fill="#000"/>
<rect x="704" y="176" width="11" height="5" fill="#000"/>
<rect x="705" y="177" width="9" height="3" fill="#00ff00"/>
<rect x="725" y="161" width="1" height="48" fill="#000"/>
<rect x="720" y="179" width="11" height="18" fill="#000"/>
<rect x="721" y="180" width="9" height="16" fill="#00ff00"/>
<rect x="741" y="189" width="1" height="36" fill="#000"/>
<rect x="736" y="195" width="11" height="1" fill="#000"/>
<rect x="757" y="159" width="1" height="52" fill="#000"/>
<rect x="752" y="169" width="11" height="27" fill="#000"/>
<rect x="753" y="170" width="9" height="25" fill="#ff0000"/>
<rect x="773" y="155" width="1" height="94" fill="#000"/>
<rect x="768" y="169" width="11" height="57" fill="#000"/>
<rect x="769" y="170" width="9" height="55" fill="#00ff00"/>
<rect x="789" y="212" width="1" height="51" fill="#000"/>
<rect x="784" y="226" width="11" height="24" fill="#000"/>
<rect x="785" y="227" width="9" height="22" fill="#00ff00"/>
<rect x="805" y="249" width="1" height="15" fill="#000"/>
<rect x="800" y="250" width="11" height="9" fill="#000"/>
<rect x="801" y="251" width="9" height="7" fill="#00ff00"/>
<rect x="821" y="246" width="1" height="25" fill="#000"/>
<rect x="816" y="259" width="11" height="6" fill="#000"/>
<rect x="817" y="260" width="9" height="4" fill="#00ff00"/>
<rect x="837" y="250" width="1" height="39" fill="#000"/>
<rect x="832" y="255" width="11" height="10" fill="#000"/>
<rect x="833" y="256" width="9" height="8" fill="#ff0000"/>
<rect x="853" y="225" width="1" height="57" fill="#000"/>
<rect x="848" y="228" width="11" height="28" fill="#000"/>
<rect x="849" y="229" width="9" height="26" fill="#ff0000"/>
<rect x="869" y="209" width="1" height="113" fill="#000"/>
<rect x="864" y="228" width="11" height="57" fill="#000"/>
<rect x="865" y="229" width="9" height="55" fill="#00ff00"/>
<rect x="885" y="284" width="1" height="47" fill="#000"/>
<rect x="880" y="285" width="11" height="17" fill="#000"/>
<rect x="881" y="286" width="9" height="15" fill="#00ff00"/>
<rect x="901" y="298" width="1" height="15" fill="#000"/>
<rect x="896" y="302" width="11" height="5" fill="#000"/>
<rect x="897" y="303" width="9" height="3" fill="#00ff00"/>
<rect x="917" y="290" width="1" height="42" fill="#000"/>
<rect x="912" y="306" width="11" height="9" fill="#000"/>
<rect x="913" y="307" width="9" height="7" fill="#00ff00"/>
<rect x="933" y="308" width="1" height="70" fill="#000"/>
<rect x="928" y="314" width="11" height="59" fill="#000"/>
<rect x="929" y="315" width="9" height="57" fill="#00ff00"/>
<rect x="949" y="369" width="1" height="43" fill="#000"/>
<rect x="944" y="372" width="11" height="12" fill="#000"/>
<rect x="945" y="373" width="9" height="10" fill="#00ff00"/>
<rect x="965" y="371" width="1" height="128" fill="#000"/>
<rect x="960" y="383" width="11" height="113" fill="#000"/>
<rect x="961" y="384" width="9" height="111" fill="#00ff00"/>
<rect x="981" y="478" width="1" height="41" fill="#000"/>
<rect x="976" y="494" width="11" height="18" fill="#000"/>
<rect x="977" y="495" width="9" height="16" fill="#00ff00"/>
<rect x="997" y="501" width="1" height="16" fill="#000"/>
<rect x="992" y="503" width="11" height="9" fill="#000"/>
<rect x="993" y="504" width="9" height="7" fill="#ff0000"/>
<rect x="1013" y="497" width="1" height="54" fill="#000"/>
<rect x="1008" y="503" width="11" height="36" fill="#000"/>
<rect x="1009" y="504" width="9" height="34" fill="#00ff00"/>
<rect x="1029" y="516" width="1" height="35" fill="#000"/>
<rect x="1024" y="539" width="11" height="2" fill="#000"/>
<rect x="1045" y="516" width="1" height="41" fill="#000"/>
<rect x="1040" y="536" width="11" height="5" fill="#000"/>
<rect x="1041" y="537" width="9" height="3" fill="#ff0000"/>
<rect x="1061" y="422" width="1" height="161" fill="#000"/>
<rect x="1056" y="427" width="11" height="111" fill="#000"/>
<rect x="1057" y="428" width="9" height="109" fill="#ff0000"/>
<rect x="1077" y="394" width="1" height="74" fill="#000"/>
<rect x="1072" y="427" width="11" height="40" fill="#000"/>
<rect x="1073" y="428" width="9" height="38" fill="#00ff00"/>
<rect x="1093" y="449" width="1" height="15" fill="#000"/>
<rect x="1088" y="453" width="11" height="8" fill="#000"/>
<rect x="1089" y="454" width="9" height="6" fill="#ff0000"/>
<rect x="1109" y="433" width="1" height="36" fill="#000"/>
<rect x="1104" y="453" width="11" height="9" fill="#000"/>
<rect x="1105" y="454" width="9" height="7" fill="#00ff00"/>
<rect x="1125" y="461" width="1" height="39" fill="#000"/>
<rect x="1120" y="461" width="11" height="14" fill="#000"/>
<rect x="1121" y="462" width="9" height="12" fill="#00ff00"/>
<rect x="1141" y="441" width="1" height="39" fill="#000"/>
<rect x="1136" y="444" width="11" height="31" fill="#000"/>
<rect x="1137" y="445" width="9" height="29" fill="#ff0000"/>
<rect x="1157" y="346" width="1" height="123" fill="#000"/>
<rect x="1152" y="376" width="11" height="69" fill="#000"/>
<rect x="1153" y="377" width="9" height="67" fill="#ff0000"/>
<rect x="1173" y="363" width="1" height="42" fill="#000"/>
<rect x="1168" y="377" width="11" height="28" fill="#000"/>
<rect x="1169" y="378" width="9" height="26" fill="#00ff00"/>
<rect x="1189" y="394" width="1" height="11" fill="#000"/>
<rect x="1184" y="396" width="11" height="9" fill="#000"/>
<rect x="1185" y="397" width="9" height="7" fill="#ff0000"/>
<rect x="1205" y="392" width="1" height="36" fill="#000"/>
<rect x="1200" y="396" width="11" height="17" fill="#000"/>
<rect x="1201" y="397" width="9" height="15" fill="#00ff00"/>
<rect x="1221" y="405" width="1" height="41" fill="#000"/>
<rect x="1216" y="412" width="11" height="26" fill="#000"/>
<rect x="1217" y="413" width="9" height="24" fill="#00ff00"/>
<rect x="1237" y="409" width="1" height="57" fill="#000"/>
<rect x="1232" y="425" width="11" height="13" fill="#000"/>
<rect x="1233" y="426" width="9" height="11" fill="#ff0000"/>
<rect x="1253" y="391" width="1" height="65" fill="#000"/>
<rect x="1248" y="399" width="11" height="27" fill="#000"/>
<rect x="1249" y="400" width="9" height="25" fill="#ff0000"/>
<rect x="1269" y="387" width="1" height="33" fill="#000"/>
<rect x="1264" y="397" width="11" height="3" fill="#000"/>
<rect x="1265" y="398" width="9" height="1" fill="#ff0000"/>
<rect x="1285" y="393" width="1" height="17" fill="#000"/>
<rect x="1280" y="397" width="11" height="10" fill="#000"/>
<rect x="1281" y="398" width="9" height="8" fill="#00ff00"/>
</g>
<rect x="5" y="325" width="1639" height="2" fill="#ff0000"/>
<rect x="5" y="363" width="1639" height="2" fill="#ff0000"/>
<rect x="5" y="417" width="1639" height="2" fill="#ffa500"/>
<rect x="5" y="458" width="1639" height="2" fill="#0000ff"/>
<rect x="5" y="499" width="1639" height="2" fill="#0000ff"/>
<g shape-rendering="geometricPrecision"><line x1="1139.8" y1="522.5" x2="1321" y2="458.3" stroke="#e8161f" stroke-width="3.2"/><polygon points="1336.3,453 1317.2,450.2 1322.9,466.8" fill="#e8161f"/></g>
<rect x="4" y="31" width="1641" height="1" fill="#000"/>
<rect x="4" y="597" width="1641" height="1" fill="#000"/>
<rect x="4" y="31" width="1" height="567" fill="#000"/>
<rect x="1644" y="31" width="1" height="567" fill="#000"/>
<rect x="4" y="599" width="1641" height="1" fill="#000"/>
<rect x="4" y="722" width="1641" height="1" fill="#000"/>
<rect x="4" y="599" width="1" height="124" fill="#000"/>
<rect x="1644" y="599" width="1" height="124" fill="#000"/>
<rect x="4" y="724" width="1641" height="1" fill="#000"/>
<rect x="4" y="828" width="1641" height="1" fill="#000"/>
<rect x="4" y="724" width="1" height="105" fill="#000"/>
<rect x="1644" y="724" width="1" height="105" fill="#000"/>
<rect x="1310" y="32" width="9" height="1" fill="#000"/>
<rect x="1311" y="33" width="7" height="1" fill="#000"/>
<rect x="1312" y="34" width="5" height="1" fill="#000"/>
<rect x="1313" y="35" width="3" height="1" fill="#000"/>
<rect x="1314" y="36" width="1" height="1" fill="#000"/>
<rect x="1645" y="33" width="2" height="1" fill="#000"/>
<text x="1650.4" y="37" fill="#000" stroke="#000" stroke-width="0.15" font-size="10" textLength="32.82" lengthAdjust="spacingAndGlyphs">1.35765</text>
<rect x="1645" y="66" width="2" height="1" fill="#000"/>
<text x="1650.4" y="70" fill="#000" stroke="#000" stroke-width="0.15" font-size="10" textLength="32.82" lengthAdjust="spacingAndGlyphs">1.35600</text>
<rect x="1645" y="99" width="2" height="1" fill="#000"/>
<text x="1650.4" y="103" fill="#000" stroke="#000" stroke-width="0.15" font-size="10" textLength="32.82" lengthAdjust="spacingAndGlyphs">1.35435</text>
<rect x="1645" y="132" width="2" height="1" fill="#000"/>
<text x="1650.4" y="136" fill="#000" stroke="#000" stroke-width="0.15" font-size="10" textLength="32.82" lengthAdjust="spacingAndGlyphs">1.35270</text>
<rect x="1645" y="165" width="2" height="1" fill="#000"/>
<text x="1650.4" y="169" fill="#000" stroke="#000" stroke-width="0.15" font-size="10" textLength="32.82" lengthAdjust="spacingAndGlyphs">1.35105</text>
<rect x="1645" y="198" width="2" height="1" fill="#000"/>
<text x="1650.4" y="202" fill="#000" stroke="#000" stroke-width="0.15" font-size="10" textLength="32.82" lengthAdjust="spacingAndGlyphs">1.34935</text>
<rect x="1645" y="231" width="2" height="1" fill="#000"/>
<text x="1650.4" y="235" fill="#000" stroke="#000" stroke-width="0.15" font-size="10" textLength="32.82" lengthAdjust="spacingAndGlyphs">1.34770</text>
<rect x="1645" y="264" width="2" height="1" fill="#000"/>
<text x="1650.4" y="268" fill="#000" stroke="#000" stroke-width="0.15" font-size="10" textLength="32.82" lengthAdjust="spacingAndGlyphs">1.34605</text>
<rect x="1645" y="297" width="2" height="1" fill="#000"/>
<text x="1650.4" y="301" fill="#000" stroke="#000" stroke-width="0.15" font-size="10" textLength="32.82" lengthAdjust="spacingAndGlyphs">1.34440</text>
<rect x="1645" y="330" width="2" height="1" fill="#000"/>
<text x="1650.4" y="334" fill="#000" stroke="#000" stroke-width="0.15" font-size="10" textLength="32.82" lengthAdjust="spacingAndGlyphs">1.34270</text>
<rect x="1645" y="363" width="2" height="1" fill="#000"/>
<text x="1650.4" y="367" fill="#000" stroke="#000" stroke-width="0.15" font-size="10" textLength="32.82" lengthAdjust="spacingAndGlyphs">1.34105</text>
<rect x="1645" y="396" width="2" height="1" fill="#000"/>
<text x="1650.4" y="400" fill="#000" stroke="#000" stroke-width="0.15" font-size="10" textLength="32.82" lengthAdjust="spacingAndGlyphs">1.33940</text>
<rect x="1645" y="429" width="2" height="1" fill="#000"/>
<text x="1650.4" y="433" fill="#000" stroke="#000" stroke-width="0.15" font-size="10" textLength="32.82" lengthAdjust="spacingAndGlyphs">1.33775</text>
<rect x="1645" y="462" width="2" height="1" fill="#000"/>
<text x="1650.4" y="466" fill="#000" stroke="#000" stroke-width="0.15" font-size="10" textLength="32.82" lengthAdjust="spacingAndGlyphs">1.33605</text>
<rect x="1645" y="495" width="2" height="1" fill="#000"/>
<text x="1650.4" y="499" fill="#000" stroke="#000" stroke-width="0.15" font-size="10" textLength="32.82" lengthAdjust="spacingAndGlyphs">1.33440</text>
<rect x="1645" y="528" width="2" height="1" fill="#000"/>
<text x="1650.4" y="532" fill="#000" stroke="#000" stroke-width="0.15" font-size="10" textLength="32.82" lengthAdjust="spacingAndGlyphs">1.33275</text>
<rect x="1645" y="561" width="2" height="1" fill="#000"/>
<text x="1650.4" y="565" fill="#000" stroke="#000" stroke-width="0.15" font-size="10" textLength="32.82" lengthAdjust="spacingAndGlyphs">1.33110</text>
<rect x="1645" y="594" width="2" height="1" fill="#000"/>
<text x="1650.4" y="598" fill="#000" stroke="#000" stroke-width="0.15" font-size="10" textLength="32.82" lengthAdjust="spacingAndGlyphs">1.32945</text>
<rect x="1642" y="325" width="4" height="2" fill="#ff0000"/>
<rect x="1642" y="363" width="4" height="2" fill="#ff0000"/>
<rect x="1642" y="417" width="4" height="2" fill="#ffa500"/>
<rect x="1642" y="458" width="4" height="2" fill="#0000ff"/>
<rect x="1642" y="499" width="4" height="2" fill="#0000ff"/>
<rect x="1646" y="320" width="41" height="11" fill="#ff0000"/>
<text x="1650.4" y="329" fill="#fff" stroke="#fff" stroke-width="0.15" font-size="10" textLength="32.82" lengthAdjust="spacingAndGlyphs">1.34292</text>
<rect x="1646" y="358" width="41" height="11" fill="#ff0000"/>
<text x="1650.4" y="367" fill="#fff" stroke="#fff" stroke-width="0.15" font-size="10" textLength="32.82" lengthAdjust="spacingAndGlyphs">1.34101</text>
<rect x="1646" y="401" width="41" height="11" fill="#000"/>
<text x="1650.4" y="410" fill="#fff" stroke="#fff" stroke-width="0.15" font-size="10" textLength="32.82" lengthAdjust="spacingAndGlyphs">1.33888</text>
<rect x="1646" y="412" width="41" height="11" fill="#ffa500"/>
<text x="1650.4" y="421" fill="#fff" stroke="#fff" stroke-width="0.15" font-size="10" textLength="32.82" lengthAdjust="spacingAndGlyphs">1.33827</text>
<rect x="1646" y="453" width="41" height="11" fill="#0000ff"/>
<text x="1650.4" y="462" fill="#fff" stroke="#fff" stroke-width="0.15" font-size="10" textLength="32.82" lengthAdjust="spacingAndGlyphs">1.33624</text>
<rect x="1646" y="494" width="41" height="11" fill="#0000ff"/>
<text x="1650.4" y="503" fill="#fff" stroke="#fff" stroke-width="0.15" font-size="10" textLength="32.82" lengthAdjust="spacingAndGlyphs">1.33417</text>
<rect x="8" y="38" width="7" height="1" fill="#000"/>
<rect x="9" y="39" width="5" height="1" fill="#000"/>
<rect x="10" y="40" width="3" height="1" fill="#000"/>
<rect x="11" y="41" width="1" height="1" fill="#000"/>
<text x="20" y="43" fill="#000" stroke="#000" stroke-width="0.15" font-size="10" textLength="58.8" lengthAdjust="spacingAndGlyphs">USDCAD-,H4</text>
<text x="84.7" y="43" fill="#000" stroke="#000" stroke-width="0.15" font-size="10" textLength="33.3" lengthAdjust="spacingAndGlyphs">1.33937</text>
<text x="120.85" y="43" fill="#000" stroke="#000" stroke-width="0.15" font-size="10" textLength="33.3" lengthAdjust="spacingAndGlyphs">1.33953</text>
<text x="157.0" y="43" fill="#000" stroke="#000" stroke-width="0.15" font-size="10" textLength="33.3" lengthAdjust="spacingAndGlyphs">1.33872</text>
<text x="193.14999999999998" y="43" fill="#000" stroke="#000" stroke-width="0.15" font-size="10" textLength="33.3" lengthAdjust="spacingAndGlyphs">1.33888</text>
<rect x="5" y="620" width="2" height="81" fill="#00ff00"/>
<rect x="20" y="620" width="3" height="83" fill="#00ff00"/>
<rect x="36" y="620" width="3" height="85" fill="#00ff00"/>
<rect x="52" y="620" width="3" height="85" fill="#00ff00"/>
<rect x="68" y="620" width="3" height="77" fill="#00ff00"/>
<rect x="84" y="620" width="3" height="74" fill="#00ff00"/>
<rect x="100" y="620" width="3" height="73" fill="#00ff00"/>
<rect x="116" y="620" width="3" height="70" fill="#00ff00"/>
<rect x="132" y="620" width="3" height="72" fill="#00ff00"/>
<rect x="148" y="620" width="3" height="70" fill="#00ff00"/>
<rect x="164" y="620" width="3" height="71" fill="#00ff00"/>
<rect x="180" y="620" width="3" height="79" fill="#00ff00"/>
<rect x="196" y="620" width="3" height="86" fill="#00ff00"/>
<rect x="212" y="620" width="3" height="93" fill="#00ff00"/>
<rect x="228" y="620" width="3" height="95" fill="#00ff00"/>
<rect x="244" y="620" width="3" height="96" fill="#00ff00"/>
<rect x="260" y="620" width="3" height="97" fill="#00ff00"/>
<rect x="276" y="620" width="3" height="95" fill="#00ff00"/>
<rect x="292" y="620" width="3" height="90" fill="#00ff00"/>
<rect x="308" y="620" width="3" height="85" fill="#00ff00"/>
<rect x="324" y="620" width="3" height="82" fill="#00ff00"/>
<rect x="340" y="620" width="3" height="78" fill="#00ff00"/>
<rect x="356" y="620" width="3" height="71" fill="#00ff00"/>
<rect x="372" y="620" width="3" height="65" fill="#00ff00"/>
<rect x="388" y="620" width="3" height="61" fill="#00ff00"/>
<rect x="404" y="620" width="3" height="55" fill="#00ff00"/>
<rect x="420" y="620" width="3" height="52" fill="#00ff00"/>
<rect x="436" y="620" width="3" height="43" fill="#00ff00"/>
<rect x="452" y="620" width="3" height="39" fill="#00ff00"/>
<rect x="468" y="620" width="3" height="36" fill="#00ff00"/>
<rect x="484" y="620" width="3" height="32" fill="#00ff00"/>
<rect x="500" y="620" width="3" height="26" fill="#00ff00"/>
<rect x="516" y="620" width="3" height="20" fill="#00ff00"/>
<rect x="532" y="620" width="3" height="16" fill="#00ff00"/>
<rect x="548" y="620" width="3" height="12" fill="#00ff00"/>
<rect x="564" y="620" width="3" height="6" fill="#00ff00"/>
<rect x="580" y="619" width="3" height="1" fill="#00ff00"/>
<rect x="596" y="615" width="3" height="5" fill="#00ff00"/>
<rect x="612" y="613" width="3" height="7" fill="#00ff00"/>
<rect x="628" y="610" width="3" height="10" fill="#00ff00"/>
<rect x="644" y="611" width="3" height="9" fill="#00ff00"/>
<rect x="660" y="611" width="3" height="9" fill="#00ff00"/>
<rect x="676" y="606" width="3" height="14" fill="#00ff00"/>
<rect x="692" y="607" width="3" height="13" fill="#00ff00"/>
<rect x="708" y="607" width="3" height="13" fill="#00ff00"/>
<rect x="724" y="609" width="3" height="11" fill="#00ff00"/>
<rect x="740" y="610" width="3" height="10" fill="#00ff00"/>
<rect x="756" y="610" width="3" height="10" fill="#00ff00"/>
<rect x="772" y="615" width="3" height="5" fill="#00ff00"/>
<rect x="788" y="620" width="3" height="1" fill="#00ff00"/>
<rect x="804" y="620" width="3" height="6" fill="#00ff00"/>
<rect x="820" y="620" width="3" height="10" fill="#00ff00"/>
<rect x="836" y="620" width="3" height="12" fill="#00ff00"/>
<rect x="852" y="620" width="3" height="12" fill="#00ff00"/>
<rect x="868" y="620" width="3" height="16" fill="#00ff00"/>
<rect x="884" y="620" width="3" height="20" fill="#00ff00"/>
<rect x="900" y="620" width="3" height="24" fill="#00ff00"/>
<rect x="916" y="620" width="3" height="27" fill="#00ff00"/>
<rect x="932" y="620" width="3" height="34" fill="#00ff00"/>
<rect x="948" y="620" width="3" height="40" fill="#00ff00"/>
<rect x="964" y="620" width="3" height="53" fill="#00ff00"/>
<rect x="980" y="620" width="3" height="64" fill="#00ff00"/>
<rect x="996" y="620" width="3" height="71" fill="#00ff00"/>
<rect x="1012" y="620" width="3" height="79" fill="#00ff00"/>
<rect x="1028" y="620" width="3" height="84" fill="#00ff00"/>
<rect x="1044" y="620" width="3" height="87" fill="#00ff00"/>
<rect x="1060" y="620" width="3" height="79" fill="#00ff00"/>
<rect x="1076" y="620" width="3" height="76" fill="#00ff00"/>
<rect x="1092" y="620" width="3" height="71" fill="#00ff00"/>
<rect x="1108" y="620" width="3" height="67" fill="#00ff00"/>
<rect x="1124" y="620" width="3" height="64" fill="#00ff00"/>
<rect x="1140" y="620" width="3" height="59" fill="#00ff00"/>
<rect x="1156" y="620" width="3" height="49" fill="#00ff00"/>
<rect x="1172" y="620" width="3" height="43" fill="#00ff00"/>
<rect x="1188" y="620" width="3" height="36" fill="#00ff00"/>
<rect x="1204" y="620" width="3" height="33" fill="#00ff00"/>
<rect x="1220" y="620" width="3" height="31" fill="#00ff00"/>
<rect x="1236" y="620" width="3" height="29" fill="#00ff00"/>
<rect x="1252" y="620" width="3" height="24" fill="#00ff00"/>
<rect x="1268" y="620" width="3" height="21" fill="#00ff00"/>
<rect x="1284" y="620" width="3" height="18" fill="#00ff00"/>
<polyline points="5.5,691.2 21.5,692.8 37.5,695.3 53.5,696.8 69.5,697.7 85.5,698.5 101.5,698.8 117.5,698.5 133.5,697.3 149.5,696.5 165.5,694.7 181.5,693.8 197.5,694 213.5,695.3 229.5,698 245.5,700.2 261.5,703.3 277.5,706.1 293.5,708 309.5,709.7 325.5,709.7 341.5,709.2 357.5,707.2 373.5,704.3 389.5,700.3 405.5,695.5 421.5,690.8 437.5,685.5 453.5,680.7 469.5,675.5 485.5,670.3 501.5,665.3 517.5,660.3 533.5,655 549.5,650 565.5,645 581.5,640 597.5,635 613.5,630.3 629.5,626.2 645.5,622.3 661.5,619.3 677.5,616.3 693.5,613.3 709.5,611.3 725.5,610.3 741.5,610 757.5,610 773.5,610.3 789.5,611.3 805.5,612.3 821.5,615.8 837.5,618.3 853.5,620.7 869.5,623.3 885.5,626.7 901.5,630.3 917.5,633.8 933.5,638 949.5,641.7 965.5,645.8 981.5,652.2 997.5,659.2 1013.5,666.2 1029.5,672.5 1045.5,679.7 1061.5,685.7 1077.5,690 1093.5,693.7 1109.5,694 1125.5,694 1141.5,693.3 1157.5,690.5 1173.5,685.8 1189.5,680.5 1205.5,674.2 1221.5,669.2 1237.5,665 1253.5,660.3 1269.5,655.3 1285.5,652" fill="none" stroke="#ff0000" stroke-width="2" stroke-linejoin="round"/>
<text x="9.3" y="612" fill="#000" stroke="#000" stroke-width="0.15" font-size="10" textLength="65.5" lengthAdjust="spacingAndGlyphs">MACD(12,26,9)</text>
<text x="78" y="612" fill="#000" stroke="#000" stroke-width="0.15" font-size="10" textLength="41" lengthAdjust="spacingAndGlyphs">-0.000878</text>
<text x="122" y="612" fill="#000" stroke="#000" stroke-width="0.15" font-size="10" textLength="41" lengthAdjust="spacingAndGlyphs">-0.001547</text>
<rect x="1645" y="601" width="1" height="1" fill="#000"/>
<rect x="1645" y="620" width="2" height="1" fill="#000"/>
<rect x="1645" y="721" width="1" height="1" fill="#000"/>
<text x="1648" y="610" fill="#000" stroke="#000" stroke-width="0.15" font-size="10" textLength="38.16" lengthAdjust="spacingAndGlyphs">0.000962</text>
<text x="1648" y="624" fill="#000" stroke="#000" stroke-width="0.15" font-size="10" textLength="17.81" lengthAdjust="spacingAndGlyphs">0.00</text>
<text x="1648" y="719" fill="#000" stroke="#000" stroke-width="0.15" font-size="10" textLength="41.2" lengthAdjust="spacingAndGlyphs">-0.005107</text>
<line x1="6" y1="746.5" x2="1644" y2="746.5" stroke="#000" stroke-width="1" stroke-dasharray="3,3"/>
<line x1="6" y1="776.5" x2="1644" y2="776.5" stroke="#000" stroke-width="1" stroke-dasharray="3,3"/>
<line x1="6" y1="812.5" x2="1644" y2="812.5" stroke="#000" stroke-width="1" stroke-dasharray="3,3"/>
<polyline points="5.5,799.8 21.5,801 37.5,801.3 53.5,801.8 69.5,789 85.5,789 101.5,793.5 117.5,792.8 133.5,796.8 149.5,792 165.5,795.5 181.5,801 197.5,803.5 213.5,803.5 229.5,799.3 245.5,799.8 261.5,799.8 277.5,797.8 293.5,792 309.5,792.8 325.5,792.8 341.5,791.8 357.5,786 373.5,786.5 389.5,786.5 405.5,785 421.5,786 437.5,777 453.5,781.8 469.5,781.8 485.5,779.5 501.5,776.3 517.5,773.5 533.5,775 549.5,774.5 565.5,769.3 581.5,766.8 597.5,766.5 613.5,770.8 629.5,769.8 645.5,775 661.5,775 677.5,764.5 693.5,773.5 709.5,773.8 725.5,776.8 741.5,776.8 757.5,773.3 773.5,781.3 789.5,785.8 805.5,786.8 821.5,786.8 837.5,785.5 853.5,780.8 869.5,787.5 885.5,789.5 901.5,790.8 917.5,791.3 933.5,797.8 949.5,798 965.5,806.8 981.5,806.8 997.5,806 1013.5,806.8 1029.5,806.8 1045.5,806.8 1061.5,786.8 1077.5,788.8 1093.5,788.3 1109.5,787.8 1125.5,789.8 1141.5,785.8 1157.5,776 1173.5,779 1189.5,779 1205.5,780.4 1221.5,783 1237.5,781.2 1253.5,777 1269.5,777.8 1285.5,777.8" fill="none" stroke="#1e90ff" stroke-width="2" stroke-linejoin="round"/>
<text x="9.3" y="737" fill="#000" stroke="#000" stroke-width="0.15" font-size="10" textLength="31.3" lengthAdjust="spacingAndGlyphs">RSI(14)</text>
<text x="43.8" y="737" fill="#000" stroke="#000" stroke-width="0.15" font-size="10" textLength="33.3" lengthAdjust="spacingAndGlyphs">48.4712</text>
<rect x="1645" y="726" width="1" height="1" fill="#000"/>
<rect x="1645" y="827" width="1" height="1" fill="#000"/>
<text x="1648" y="735" fill="#000" stroke="#000" stroke-width="0.15" font-size="10" textLength="15.26" lengthAdjust="spacingAndGlyphs">100</text>
<text x="1648" y="750" fill="#000" stroke="#000" stroke-width="0.15" font-size="10" textLength="10.17" lengthAdjust="spacingAndGlyphs">80</text>
<text x="1648" y="780" fill="#000" stroke="#000" stroke-width="0.15" font-size="10" textLength="10.17" lengthAdjust="spacingAndGlyphs">50</text>
<text x="1648" y="816" fill="#000" stroke="#000" stroke-width="0.15" font-size="10" textLength="10.17" lengthAdjust="spacingAndGlyphs">15</text>
<text x="1648" y="825" fill="#000" stroke="#000" stroke-width="0.15" font-size="10" textLength="5.09" lengthAdjust="spacingAndGlyphs">0</text>
<rect x="5" y="829" width="1" height="3" fill="#000"/>
<text x="4" y="841" fill="#000" stroke="#000" stroke-width="0.15" font-size="10" textLength="53.05" lengthAdjust="spacingAndGlyphs">30 Mar 2023</text>
<rect x="69" y="829" width="1" height="3" fill="#000"/>
<text x="68" y="841" fill="#000" stroke="#000" stroke-width="0.15" font-size="10" textLength="55.68" lengthAdjust="spacingAndGlyphs">31 Mar 04:00</text>
<rect x="133" y="829" width="1" height="3" fill="#000"/>
<text x="132" y="841" fill="#000" stroke="#000" stroke-width="0.15" font-size="10" textLength="48.86" lengthAdjust="spacingAndGlyphs">2 Apr 23:00</text>
<rect x="197" y="829" width="1" height="3" fill="#000"/>
<text x="196" y="841" fill="#000" stroke="#000" stroke-width="0.15" font-size="10" textLength="48.86" lengthAdjust="spacingAndGlyphs">3 Apr 12:00</text>
<rect x="261" y="829" width="1" height="3" fill="#000"/>
<text x="260" y="841" fill="#000" stroke="#000" stroke-width="0.15" font-size="10" textLength="48.86" lengthAdjust="spacingAndGlyphs">4 Apr 04:00</text>
<rect x="325" y="829" width="1" height="3" fill="#000"/>
<text x="324" y="841" fill="#000" stroke="#000" stroke-width="0.15" font-size="10" textLength="48.86" lengthAdjust="spacingAndGlyphs">4 Apr 20:00</text>
<rect x="389" y="829" width="1" height="3" fill="#000"/>
<text x="388" y="841" fill="#000" stroke="#000" stroke-width="0.15" font-size="10" textLength="48.86" lengthAdjust="spacingAndGlyphs">5 Apr 12:00</text>
<rect x="453" y="829" width="1" height="3" fill="#000"/>
<text x="452" y="841" fill="#000" stroke="#000" stroke-width="0.15" font-size="10" textLength="48.86" lengthAdjust="spacingAndGlyphs">6 Apr 04:00</text>
<rect x="517" y="829" width="1" height="3" fill="#000"/>
<text x="516" y="841" fill="#000" stroke="#000" stroke-width="0.15" font-size="10" textLength="48.86" lengthAdjust="spacingAndGlyphs">6 Apr 20:00</text>
<rect x="581" y="829" width="1" height="3" fill="#000"/>
<text x="580" y="841" fill="#000" stroke="#000" stroke-width="0.15" font-size="10" textLength="48.86" lengthAdjust="spacingAndGlyphs">7 Apr 12:00</text>
<rect x="645" y="829" width="1" height="3" fill="#000"/>
<text x="644" y="841" fill="#000" stroke="#000" stroke-width="0.15" font-size="10" textLength="54.11" lengthAdjust="spacingAndGlyphs">10 Apr 04:00</text>
<rect x="709" y="829" width="1" height="3" fill="#000"/>
<text x="708" y="841" fill="#000" stroke="#000" stroke-width="0.15" font-size="10" textLength="54.11" lengthAdjust="spacingAndGlyphs">10 Apr 20:00</text>
<rect x="773" y="829" width="1" height="3" fill="#000"/>
<text x="772" y="841" fill="#000" stroke="#000" stroke-width="0.15" font-size="10" textLength="54.11" lengthAdjust="spacingAndGlyphs">11 Apr 12:00</text>
<rect x="837" y="829" width="1" height="3" fill="#000"/>
<text x="836" y="841" fill="#000" stroke="#000" stroke-width="0.15" font-size="10" textLength="54.11" lengthAdjust="spacingAndGlyphs">12 Apr 04:00</text>
<rect x="901" y="829" width="1" height="3" fill="#000"/>
<text x="900" y="841" fill="#000" stroke="#000" stroke-width="0.15" font-size="10" textLength="54.11" lengthAdjust="spacingAndGlyphs">12 Apr 20:00</text>
<rect x="965" y="829" width="1" height="3" fill="#000"/>
<text x="964" y="841" fill="#000" stroke="#000" stroke-width="0.15" font-size="10" textLength="54.11" lengthAdjust="spacingAndGlyphs">13 Apr 12:00</text>
<rect x="1029" y="829" width="1" height="3" fill="#000"/>
<text x="1028" y="841" fill="#000" stroke="#000" stroke-width="0.15" font-size="10" textLength="54.11" lengthAdjust="spacingAndGlyphs">14 Apr 04:00</text>
<rect x="1093" y="829" width="1" height="3" fill="#000"/>
<text x="1092" y="841" fill="#000" stroke="#000" stroke-width="0.15" font-size="10" textLength="54.11" lengthAdjust="spacingAndGlyphs">16 Apr 23:00</text>
<rect x="1157" y="829" width="1" height="3" fill="#000"/>
<text x="1156" y="841" fill="#000" stroke="#000" stroke-width="0.15" font-size="10" textLength="54.11" lengthAdjust="spacingAndGlyphs">17 Apr 12:00</text>
<rect x="1221" y="829" width="1" height="3" fill="#000"/>
<text x="1220" y="841" fill="#000" stroke="#000" stroke-width="0.15" font-size="10" textLength="54.11" lengthAdjust="spacingAndGlyphs">18 Apr 04:00</text>
<rect x="1285" y="829" width="1" height="3" fill="#000"/>
<text x="1284" y="841" fill="#000" stroke="#000" stroke-width="0.15" font-size="10" textLength="54.11" lengthAdjust="spacingAndGlyphs">18 Apr 20:00</text></svg>
</body></html>
